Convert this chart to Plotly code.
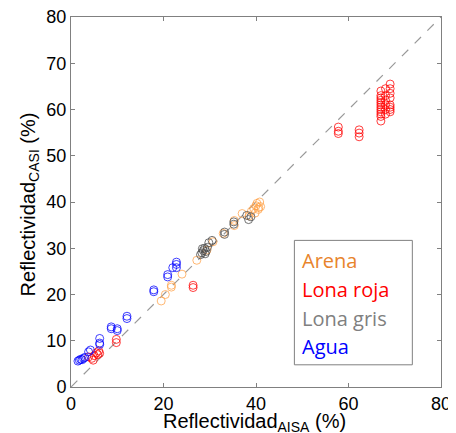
import plotly.graph_objects as go

# Arena (sand)
arena_x = [19.5, 20.4, 21.7, 21.7, 24.0, 27.2, 29.4, 30.7, 32.9, 35.3, 35.3, 37.0,
           38.5, 39.0, 39.5, 40.0, 40.2, 40.5, 40.8, 41.0, 39.8, 40.6]
arena_y = [18.6, 20.0, 21.6, 22.0, 24.4, 27.4, 29.6, 31.4, 33.2, 34.9, 36.0, 37.5,
           37.0, 38.0, 38.6, 39.2, 39.7, 38.4, 40.0, 39.0, 37.6, 38.8]

# Lona roja (red tarp)
roja_x = [3.8, 4.5, 4.8, 5.0, 5.5, 5.8, 6.0, 6.2, 9.8, 9.8, 26.4, 26.4,
          57.8, 57.8, 57.8, 62.3, 62.3, 62.3,
          67.0, 67.0, 67.0, 67.0, 67.0, 67.0, 67.0, 67.0, 67.0, 67.0, 67.0, 67.0,
          68.0, 68.0, 68.0, 68.0, 68.0, 68.0,
          69.0, 69.0, 69.0, 69.0, 69.0, 69.0, 69.0, 69.0]
roja_y = [6.5, 6.2, 5.8, 6.8, 7.4, 7.0, 7.8, 7.3, 10.3, 9.6, 21.5, 22.0,
          56.2, 55.3, 54.8, 55.6, 54.9, 54.1,
          57.5, 58.5, 59.0, 59.5, 60.0, 60.5, 61.0, 61.5, 62.0, 62.5, 63.0, 64.0,
          59.0, 60.0, 61.0, 62.0, 63.0, 64.5,
          59.5, 60.0, 60.5, 61.0, 62.5, 63.5, 64.5, 65.5]

# Lona gris (grey tarp)
gris_x = [28.0, 28.3, 28.6, 28.9, 29.2, 29.5, 28.4, 29.0, 29.8, 30.5, 33.2, 33.2,
          35.2, 35.2, 38.0, 38.9, 38.4]
gris_y = [28.6, 29.0, 29.5, 30.0, 29.3, 30.2, 29.9, 28.8, 31.2, 31.7, 33.5, 33.0,
          35.7, 35.2, 37.1, 36.8, 36.2]

# Agua (water)
agua_x = [1.5, 1.8, 2.1, 2.4, 2.7, 3.0, 3.8, 4.2, 6.2, 6.2, 6.2, 8.7, 8.7, 10.0, 10.0,
          12.1, 12.1, 17.9, 17.9, 20.9, 20.9, 22.0, 22.8, 22.8, 22.8]
agua_y = [5.6, 5.8, 6.0, 5.9, 6.2, 6.4, 7.6, 8.0, 10.5, 9.5, 9.2, 13.0, 12.6, 12.6, 12.2,
          15.3, 14.8, 21.0, 20.6, 24.3, 23.8, 25.8, 25.8, 26.5, 27.0]

legend_names = ['Arena', 'Lona roja', 'Lona gris', 'Agua']
legend_colors = ['#E8842C', '#FF0000', '#808080', '#0000FF']

fig = go.Figure()

# 1:1 line
fig.add_trace(go.Scatter(x=[0, 80], y=[0, 80], mode='lines',
                         line=dict(color='#999999', width=1.2, dash='dash'),
                         hoverinfo='skip'))

groups = [
    (arena_x, arena_y, 'rgba(255,160,70,0.75)'),
    (roja_x, roja_y, 'rgba(255,0,0,0.75)'),
    (gris_x, gris_y, 'rgba(70,70,70,0.75)'),
    (agua_x, agua_y, 'rgba(0,0,255,0.75)'),
]
for (xs, ys, col), name in zip(groups, legend_names):
    fig.add_trace(go.Scatter(x=xs, y=ys, mode='markers', name=name,
                             marker=dict(symbol='circle-open', size=8,
                                         color=col, line=dict(width=1, color=col))))

# legend box drawn as a frame with coloured text
fig.add_shape(type='rect', xref='x', yref='y', x0=48.3, x1=73.8, y0=4.8, y1=31.7,
              line=dict(color='#808080', width=1))
for i, (name, col) in enumerate(zip(legend_names, legend_colors)):
    fig.add_annotation(x=49.6, y=27.4 - i * 6.25, xref='x', yref='y', text=name,
                       showarrow=False, xanchor='left', yanchor='middle',
                       font=dict(family='Open Sans', size=20, color=col))

# axis titles as annotations for exact placement
title_font = dict(family='Liberation Sans', size=20, color='black')
fig.add_annotation(x=0.497, y=-0.056, xref='paper', yref='paper',
                   text='Reflectividad<sub>AISA</sub> (%)', showarrow=False,
                   xanchor='center', yanchor='top', font=title_font)
fig.add_annotation(x=-0.113, y=0.494, xref='paper', yref='paper',
                   text='Reflectividad<sub>CASI</sub> (%)', showarrow=False, textangle=-90,
                   xanchor='center', yanchor='middle', font=title_font)

axis_style = dict(range=[0, 80], showgrid=False, zeroline=False, showline=True,
                  linecolor='#808080', linewidth=1, mirror='ticks',
                  ticks='inside', ticklen=4, tickcolor='#808080', automargin=False,
                  ticklabeloverflow='allow',
                  tickfont=dict(family='Liberation Sans', size=18, color='black'))

fig.update_xaxes(dtick=20, **axis_style)
fig.update_yaxes(dtick=10, **axis_style)

# page body has an 8px margin, so the figure is made 8px smaller on each axis
fig.update_layout(width=448, height=425, showlegend=False,
                  plot_bgcolor='white', paper_bgcolor='white',
                  margin=dict(l=63, r=15, t=9, b=46))

fig.write_html("out.html")
